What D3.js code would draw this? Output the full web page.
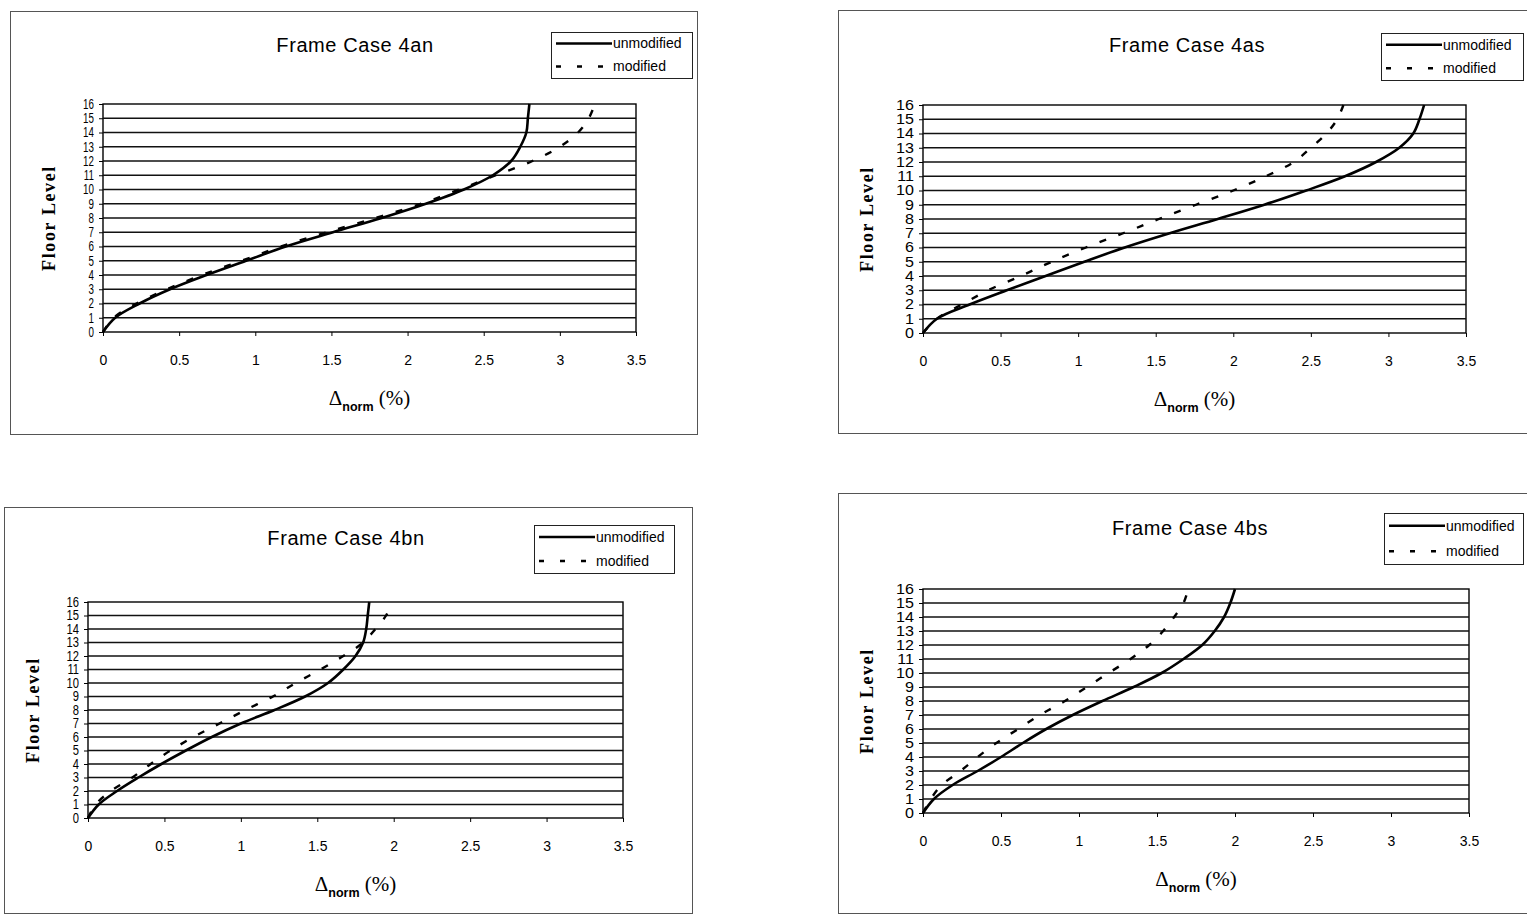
<!DOCTYPE html>
<html>
<head>
<meta charset="utf-8">
<script src="https://cdn.jsdelivr.net/npm/d3@7"></script>
<style>
  body { margin: 0; background: #fff; }
  svg { display: block; }
</style>
</head>
<body>
<svg id="chart" width="1527" height="915"></svg>
<script>
// ---- data -------------------------------------------------------------
const floorLevels = [0, 1, 2, 3, 4, 5, 6, 7, 8, 9, 10, 11, 12, 13, 14, 15, 16];
const driftTicks = [0, 0.5, 1, 1.5, 2, 2.5, 3, 3.5];
const caseTitles = ["Frame Case 4an", "Frame Case 4as", "Frame Case 4bn", "Frame Case 4bs"];
const seriesNames = ["unmodified", "modified"];

// normalised interstorey drift (%) at each floor level, 0..16
const unmodified4an = [0, 0.08, 0.24, 0.44, 0.68, 0.94, 1.20, 1.51, 1.83, 2.12, 2.37, 2.56, 2.68, 2.74, 2.78, 2.79, 2.80];
const modified4an   = [0, 0.07, 0.22, 0.42, 0.65, 0.91, 1.17, 1.47, 1.79, 2.09, 2.34, 2.58, 2.82, 3.00, 3.12, 3.19, 3.23];

const unmodified4as = [0, 0.09, 0.30, 0.54, 0.79, 1.04, 1.30, 1.59, 1.90, 2.20, 2.47, 2.72, 2.92, 3.07, 3.16, 3.20, 3.23];
const modified4as   = [0, 0.09, 0.25, 0.42, 0.63, 0.83, 1.05, 1.29, 1.52, 1.76, 2.00, 2.21, 2.39, 2.50, 2.60, 2.67, 2.71];

const unmodified4bn = [0, 0.07, 0.19, 0.33, 0.48, 0.64, 0.81, 1.00, 1.22, 1.42, 1.57, 1.67, 1.75, 1.80, 1.82, 1.83, 1.84];
const modified4bn   = [0, 0.05, 0.15, 0.29, 0.41, 0.54, 0.69, 0.86, 1.03, 1.21, 1.36, 1.52, 1.67, 1.80, 1.88, 1.95, 1.99];

const unmodified4bs = [0, 0.07, 0.19, 0.35, 0.50, 0.64, 0.79, 0.96, 1.15, 1.35, 1.53, 1.67, 1.79, 1.87, 1.93, 1.97, 2.00];
const modified4bs   = [0, 0.05, 0.12, 0.24, 0.35, 0.47, 0.61, 0.75, 0.91, 1.05, 1.19, 1.33, 1.45, 1.54, 1.61, 1.67, 1.70];

// ---- layout of the four chart panels ----------------------------------
const panels = [
  { title: caseTitles[0], unmod: unmodified4an, mod: modified4an,
    frame: [10, 11, 697, 434], plot: [103, 104, 636, 332],
    titleX: 355, titleY: 45, legend: [551, 32, 692, 78], ySqueeze: 0.7, yTitleX: 49 },
  { title: caseTitles[1], unmod: unmodified4as, mod: modified4as,
    frame: [838, 10, 1545, 433], plot: [923, 105, 1466, 333],
    titleX: 1187, titleY: 45, legend: [1381, 33, 1523, 80], ySqueeze: 1.15, yTitleX: 867 },
  { title: caseTitles[2], unmod: unmodified4bn, mod: modified4bn,
    frame: [4, 507, 692, 913], plot: [88, 602, 623, 818],
    titleX: 346, titleY: 538, legend: [534, 525, 674, 573], ySqueeze: 0.8, yTitleX: 33 },
  { title: caseTitles[3], unmod: unmodified4bs, mod: modified4bs,
    frame: [838, 493, 1545, 913], plot: [923, 589, 1469, 813],
    titleX: 1190, titleY: 528, legend: [1384, 513, 1523, 564], ySqueeze: 1.15, yTitleX: 867 }
];

const SANS = "'Liberation Sans', Arial, sans-serif";
const SERIF = "'Liberation Serif', 'Times New Roman', serif";
const DASH = "7,13";

const svg = d3.select("#chart");

panels.forEach(p => {
  const g = svg.append("g");
  const [fx0, fy0, fx1, fy1] = p.frame;
  const [px0, py0, px1, py1] = p.plot;

  // chart-area border
  g.append("rect")
    .attr("x", fx0 + 0.5).attr("y", fy0 + 0.5)
    .attr("width", fx1 - fx0).attr("height", fy1 - fy0)
    .attr("fill", "#fff").attr("stroke", "#555").attr("stroke-width", 1);

  const x = d3.scaleLinear().domain([0, 3.5]).range([px0, px1]);
  const y = d3.scaleLinear().domain([0, 16]).range([py1, py0]);

  // plot area
  g.append("rect")
    .attr("x", px0).attr("y", py0)
    .attr("width", px1 - px0).attr("height", py1 - py0)
    .attr("fill", "#fff").attr("stroke", "#000").attr("stroke-width", 1.4);

  // horizontal gridlines at each floor
  g.append("g").selectAll("line")
    .data(floorLevels.filter(f => f > 0 && f < 16))
    .join("line")
    .attr("x1", px0).attr("x2", px1)
    .attr("y1", d => y(d)).attr("y2", d => y(d))
    .attr("stroke", "#111").attr("stroke-width", 1.5);

  // x axis
  const xAxis = g.append("g")
    .attr("transform", `translate(0,${py1})`)
    .call(d3.axisBottom(x).tickValues(driftTicks).tickSize(4).tickPadding(19)
      .tickFormat(d => String(d)));
  xAxis.select(".domain").remove();
  xAxis.selectAll("line").attr("stroke", "#000");
  xAxis.selectAll("text")
    .attr("font-family", SANS).attr("font-size", 14).attr("fill", "#000");

  // y axis (floor level)
  const yAxis = g.append("g")
    .attr("transform", `translate(${px0},0)`)
    .call(d3.axisLeft(y).tickValues(floorLevels).tickSize(4).tickPadding(5)
      .tickFormat(d3.format("d")));
  yAxis.select(".domain").remove();
  yAxis.selectAll("line").attr("stroke", "#000");
  yAxis.selectAll("text")
    .attr("font-family", SANS).attr("font-size", 14).attr("fill", "#000")
    .attr("x", -9 / p.ySqueeze)
    .attr("transform", `scale(${p.ySqueeze},1)`);

  // smoothed drift profiles
  const line = d3.line()
    .x(d => x(d.v)).y(d => y(d.f))
    .curve(d3.curveCatmullRom.alpha(0.5));

  const toPts = arr => arr.map((v, i) => ({ f: floorLevels[i], v }));

  g.append("path")
    .datum(toPts(p.mod))
    .attr("d", line)
    .attr("fill", "none").attr("stroke", "#000")
    .attr("stroke-width", 2.4).attr("stroke-dasharray", DASH);

  g.append("path")
    .datum(toPts(p.unmod))
    .attr("d", line)
    .attr("fill", "none").attr("stroke", "#000")
    .attr("stroke-width", 2.6);

  // title
  g.append("text")
    .attr("x", p.titleX).attr("y", p.titleY).attr("dy", "0.35em")
    .attr("text-anchor", "middle")
    .attr("font-family", SANS).attr("font-size", 20).attr("letter-spacing", 0.6)
    .text(p.title);

  // y-axis title
  g.append("text")
    .attr("transform", `translate(${p.yTitleX},${(py0 + py1) / 2}) rotate(-90)`)
    .attr("dy", "0.35em")
    .attr("text-anchor", "middle")
    .attr("font-family", SERIF).attr("font-weight", "bold")
    .attr("font-size", 18).attr("letter-spacing", 1.6)
    .text("Floor Level");

  // x-axis title: Δnorm (%)
  const xt = g.append("text")
    .attr("x", (px0 + px1) / 2).attr("y", py1 + 66).attr("dy", "0.35em")
    .attr("text-anchor", "middle")
    .attr("font-family", SERIF).attr("font-size", 21);
  xt.append("tspan").text("Δ");
  xt.append("tspan")
    .attr("font-family", SANS).attr("font-weight", "bold").attr("font-size", 12.5)
    .attr("dy", 6).text("norm");
  xt.append("tspan").attr("dy", -6).text(" (%)");

  // legend
  const [lx0, ly0, lx1, ly1] = p.legend;
  const lg = g.append("g");
  lg.append("rect")
    .attr("x", lx0 + 0.5).attr("y", ly0 + 0.5)
    .attr("width", lx1 - lx0).attr("height", ly1 - ly0)
    .attr("fill", "#fff").attr("stroke", "#222").attr("stroke-width", 1);
  const rowH = (ly1 - ly0) / 2;
  seriesNames.forEach((name, i) => {
    const cy = ly0 + rowH * (i + 0.5);
    lg.append("line")
      .attr("x1", lx0 + 5).attr("x2", lx0 + 61)
      .attr("y1", cy).attr("y2", cy)
      .attr("stroke", "#000").attr("stroke-width", i === 0 ? 2.6 : 2.4)
      .attr("stroke-dasharray", i === 0 ? null : "5,16");
    lg.append("text")
      .attr("x", lx0 + 62).attr("y", cy).attr("dy", "0.35em")
      .attr("font-family", SANS).attr("font-size", 14)
      .text(name);
  });
});
</script>
</body>
</html>
